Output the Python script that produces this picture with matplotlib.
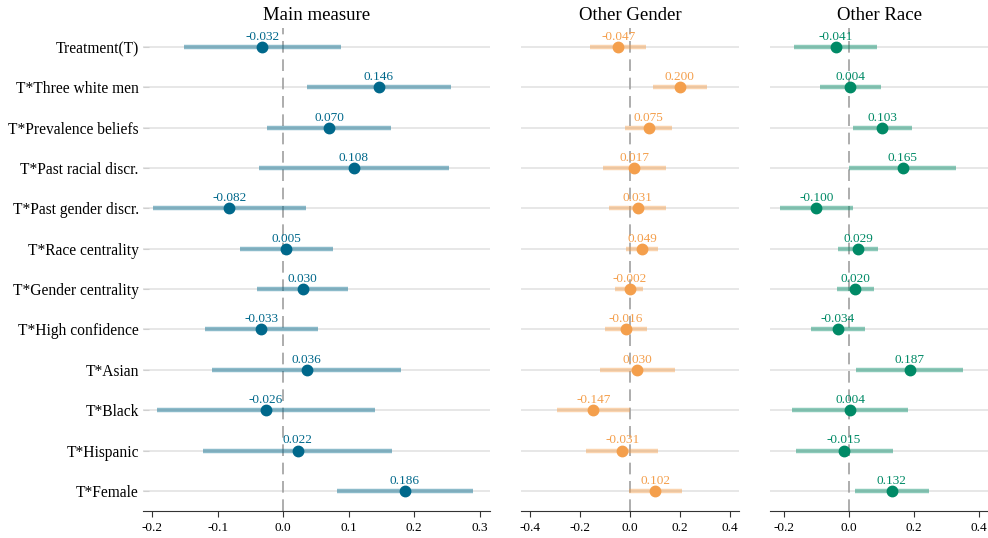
import numpy as np
import matplotlib.pyplot as plt

plt.rcParams['font.family'] = ['Liberation Serif', 'DejaVu Serif']

# Coefficient estimates with 95% confidence bounds
terms = ["Treatment(T)", "T*Three white men", "T*Prevalence beliefs",
         "T*Past racial discr.", "T*Past gender discr.", "T*Race centrality",
         "T*Gender centrality", "T*High confidence", "T*Asian", "T*Black",
         "T*Hispanic", "T*Female"]

main_est = [-0.032, 0.146, 0.070, 0.108, -0.082, 0.005, 0.030, -0.033, 0.036, -0.026, 0.022, 0.186]
main_lo = [-0.151, 0.036, -0.024, -0.037, -0.199, -0.066, -0.040, -0.119, -0.109, -0.193, -0.122, 0.083]
main_hi = [0.089, 0.257, 0.165, 0.254, 0.035, 0.076, 0.099, 0.054, 0.180, 0.141, 0.167, 0.290]

gender_est = [-0.047, 0.200, 0.075, 0.017, 0.031, 0.049, -0.002, -0.016, 0.030, -0.147, -0.031, 0.102]
gender_lo = [-0.161, 0.092, -0.020, -0.108, -0.084, -0.016, -0.060, -0.100, -0.120, -0.293, -0.177, -0.003]
gender_hi = [0.064, 0.309, 0.169, 0.145, 0.145, 0.112, 0.052, 0.068, 0.181, 0.000, 0.113, 0.208]

race_est = [-0.041, 0.004, 0.103, 0.165, -0.100, 0.029, 0.020, -0.034, 0.187, 0.004, -0.015, 0.132]
race_lo = [-0.169, -0.089, 0.013, 0.000, -0.212, -0.034, -0.037, -0.117, 0.022, -0.175, -0.163, 0.018]
race_hi = [0.086, 0.098, 0.194, 0.329, 0.012, 0.089, 0.077, 0.049, 0.351, 0.182, 0.135, 0.246]

panels = [
    ("Main measure", main_est, main_lo, main_hi, "#00688b", (-0.214, 0.316), [-0.2, -0.1, 0.0, 0.1, 0.2, 0.3]),
    ("Other Gender", gender_est, gender_lo, gender_hi, "#f49f4c", (-0.438, 0.438), [-0.4, -0.2, 0.0, 0.2, 0.4]),
    ("Other Race", race_est, race_lo, race_hi, "#008a66", (-0.243, 0.428), [-0.2, 0.0, 0.2, 0.4]),
]
positions = [(0.1447, 0.3513), (0.5273, 0.2207), (0.7794, 0.2206)]

fig = plt.figure(figsize=(9.88, 5.38), dpi=100)
y = np.arange(len(terms))

for (title, est, lo, hi, color, xlim, xticks), (left, width) in zip(panels, positions):
    ax = fig.add_axes([left, 0.050, width, 0.898])
    for yi in y:
        ax.axhline(yi, color="#e3e3e3", lw=1.2, zorder=0)
    ax.axvline(0, color="#a0a0a0", lw=1.2, ls=(0, (7, 4)), zorder=1)
    ax.hlines(y, lo, hi, color=color, alpha=0.45, lw=3.2, zorder=2)
    ax.plot(est, y, "o", color=color, ms=7.5, zorder=3)
    for yi, v in zip(y, est):
        ax.annotate(f"{v:.3f}", (v, yi), xytext=(0, 3), textcoords="offset points",
                    ha="center", va="bottom", color=color, fontsize=9.5, zorder=4)
    ax.set_xlim(*xlim)
    ax.set_ylim(len(terms) - 0.5, -0.47)
    ax.set_xticks(xticks)
    ax.set_xticklabels([f"{t:.1f}" for t in xticks], fontsize=9.5)
    ax.set_title(title, fontsize=13.5, pad=6)
    for s in ["top", "right", "left"]:
        ax.spines[s].set_visible(False)
    ax.spines["bottom"].set_color("#333333")
    ax.tick_params(axis="x", colors="#333333", length=4, labelcolor="black")
    ax.set_yticks(y)
    if left < 0.2:
        ax.set_yticklabels(terms, fontsize=11.2)
        ax.tick_params(axis="y", direction="in", length=4, color="#d0d0d0", pad=3)
    else:
        ax.set_yticklabels([])
        ax.tick_params(axis="y", length=0)

fig.savefig("out.png", dpi=100)
